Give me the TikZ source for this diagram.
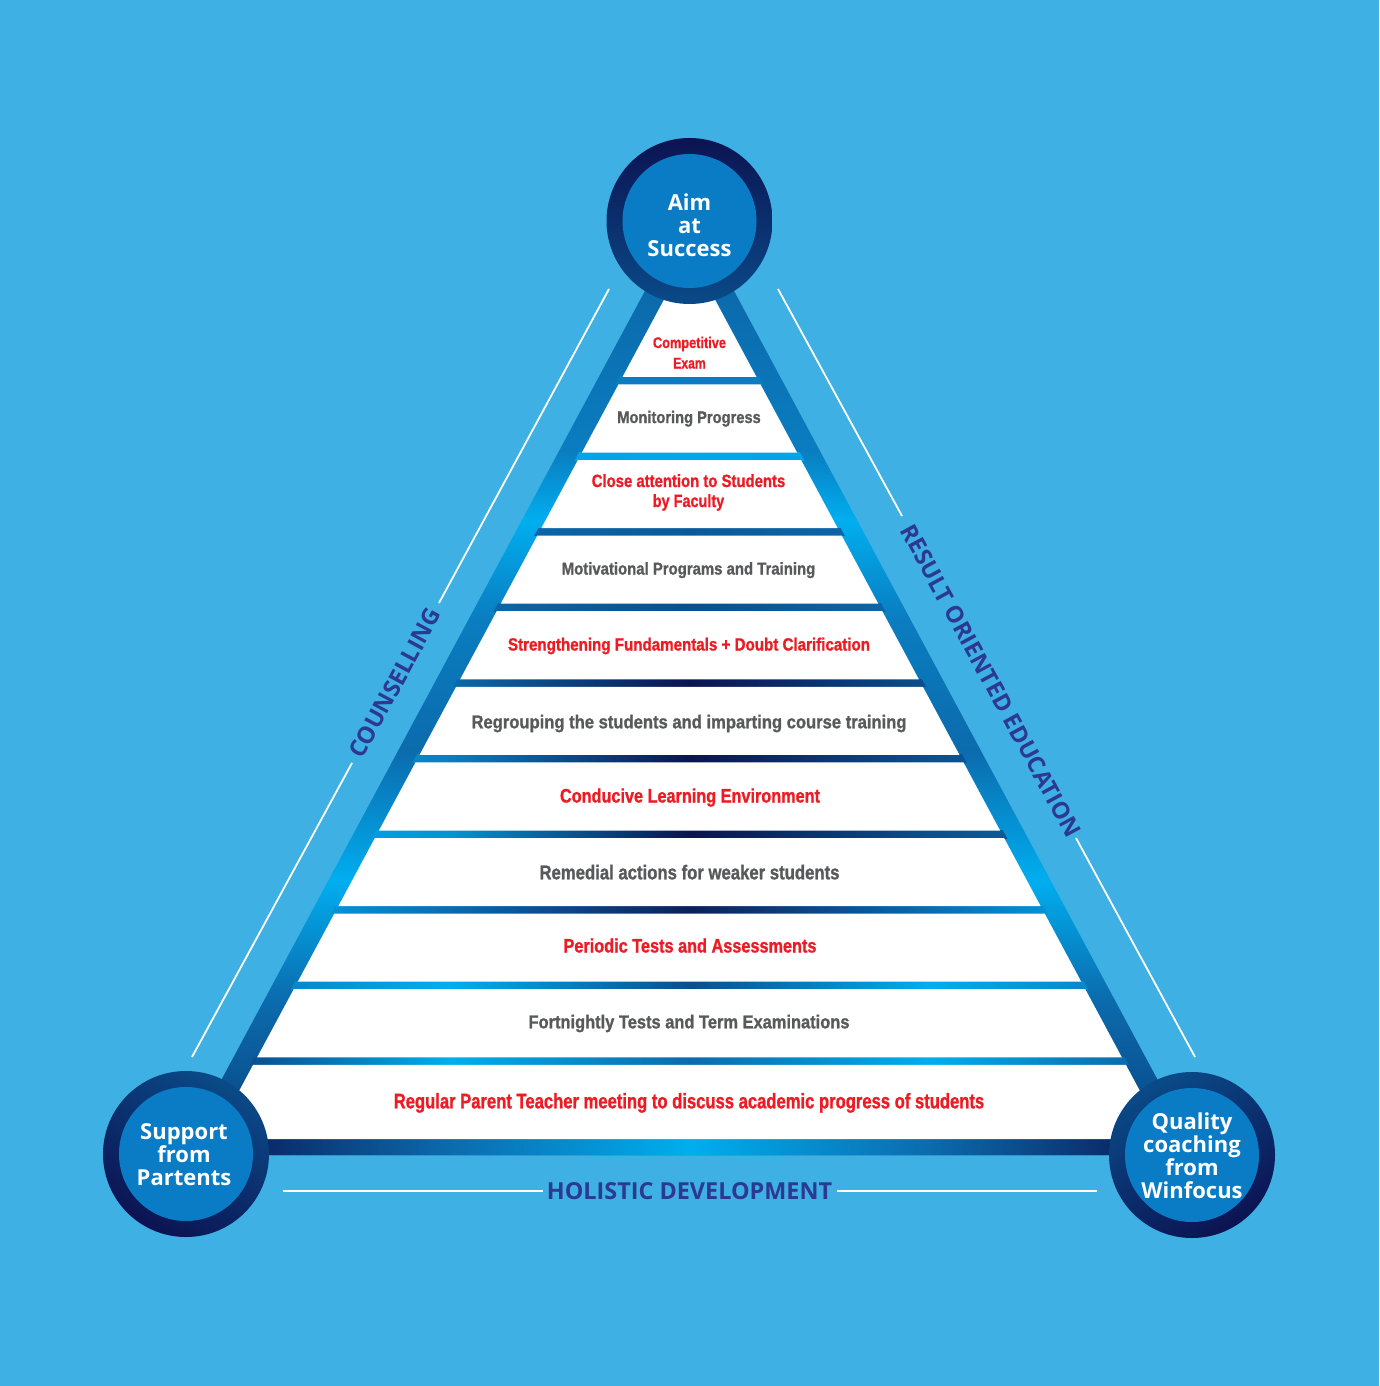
\documentclass[tikz,border=0pt]{standalone}
\usepackage{fontspec}
\usepackage{graphicx}
\setmainfont{Liberation Sans}
\newfontfamily\bandfont{Liberation Sans}[BoldFeatures={FakeBold=1.2}]
\newfontfamily\osans{Open Sans}
\definecolor{bgblue}{HTML}{3EB0E3}
\definecolor{navy}{HTML}{0B1450}
\definecolor{navyB}{HTML}{0B2563}
\definecolor{medB}{HTML}{0B6BAD}
\definecolor{medC}{HTML}{0A7DC0}
\definecolor{cyanB}{HTML}{00AEEF}
\definecolor{darkB}{HTML}{0A4F8E}
\definecolor{circfill}{HTML}{0A7CC6}
\definecolor{ringdark}{HTML}{0C1352}
\definecolor{ringlight}{HTML}{0A4A88}
\definecolor{txtred}{HTML}{ED1C24}
\definecolor{txtgray}{HTML}{58595B}
\definecolor{labblue}{HTML}{2B3990}
\colorlet{cyanmix}{cyanB!75!medC}
\colorlet{cyanmix2}{cyanB!88!medC}
\colorlet{darkmix}{darkB!60!medB}
\colorlet{navymix}{navy!80!darkB}
\colorlet{cyanmed}{cyanB!60!medB}
% frame shading (vertical, 0bp = bottom)
\pgfdeclareverticalshading{frameshade}{100bp}{color(0bp)=(navyB); color(25bp)=(navyB); color(27.9bp)=(darkB); color(33.2bp)=(medB); color(39.5bp)=(cyanB); color(46.4bp)=(medB); color(53.3bp)=(medC); color(58.5bp)=(cyanB); color(62.2bp)=(medC); color(70.1bp)=(medB); color(100bp)=(medB)}
% bar shadings, stops at x = 250, 450, 690, 930, 1130 for a rectangle 170..1210
\newcommand\mkbar[6]{\pgfdeclarehorizontalshading{#1}{100bp}{color(0bp)=(#2); color(28.85bp)=(#2); color(38.46bp)=(#3); color(50bp)=(#4); color(61.54bp)=(#5); color(71.15bp)=(#6); color(100bp)=(#6)}}
\mkbar{barA}{medC}{medC}{medC}{medC}{medC}
\mkbar{barB}{cyanmix}{cyanmix}{cyanmix2}{cyanmix}{cyanmix}
\mkbar{barC}{medB}{medB}{darkmix}{medB}{medB}
\mkbar{barD}{medC}{medB}{darkB}{medB}{medB}
\mkbar{barE}{medC}{medB}{navy}{darkB}{medB}
\mkbar{barF}{cyanB}{medC}{navy}{darkB}{medB}
\mkbar{barG}{cyanB}{cyanmed}{navy}{darkB}{medB}
\mkbar{barH}{cyanB}{medB}{navymix}{medB}{cyanB}
\mkbar{barI}{medC}{cyanB}{darkB}{cyanB}{medC}
\mkbar{barJ}{darkB}{cyanB}{medB}{cyanB}{medB}
\mkbar{barBot}{navyB}{medB}{cyanB}{medB}{navyB}
\newsavebox\fitbox
\newcommand\fitw[3]{\sbox\fitbox{\fontsize{#2}{#2}\selectfont #3}\pgfmathsetmacro\fitfac{#1/\the\wd\fitbox}\scalebox{\fitfac}[1]{\usebox\fitbox}}
\tikzset{
  hubring/.style={circle, minimum size=166pt, inner sep=0pt, top color=ringdark, bottom color=ringlight},
  hubcore/.style={circle, minimum size=134pt, inner sep=0pt, fill=circfill},
  hubtext/.style={text=white, align=center, inner sep=0pt, font=\osans\bfseries\fontsize{22}{23}\selectfont},
  bandt/.style={anchor=base, inner sep=0pt, font=\bandfont\bfseries},
  redt/.style={bandt, text=txtred},
  grayt/.style={bandt, text=txtgray},
  lab/.style={inner sep=0pt, text=labblue, font=\osans\bfseries\fontsize{23.4}{24}\selectfont},
  wline/.style={draw=white, line width=1.8pt}
}
\begin{document}
\begin{tikzpicture}[x=1pt,y=-1pt]
\fill[bgblue] (0,0) rectangle (1379,1386);
\useasboundingbox (0,0) rectangle (1379,1386);
% white guide lines
\draw[wline] (609,289) -- (439,603);
\draw[wline] (352,763) -- (192,1057);
\draw[wline] (778,289) -- (902,516);
\draw[wline] (1076,838) -- (1195,1057);
\draw[wline] (283,1191) -- (543,1191);
\draw[wline] (837,1191) -- (1097,1191);
% frame
\path[shading=frameshade] (689.5,208) -- (181,1155) -- (1198,1155) -- cycle;
% bars
\begin{scope}
\clip (689.5,246.6) -- (201.7,1155) -- (1177.3,1155) -- cycle;
\foreach \k/\sh in {0/barA,1/barB,2/barC,3/barD,4/barE,5/barF,6/barG,7/barH,8/barI,9/barJ}{
  \pgfmathsetmacro\yt{376.9+75.6*\k}
  \path[shading=\sh] (170,\yt) rectangle (1210,\yt+7.5);
}
\end{scope}
\begin{scope}
\clip (689.5,208) -- (181,1155) -- (1198,1155) -- cycle;
\path[shading=barBot] (170,1137) rectangle (1210,1155);
\end{scope}
% white bands
\pgfmathsetmacro\wb{0.537*(376.9-252.2)}
\fill[white] (689.5,252.2) -- (689.5+\wb,376.9) -- (689.5-\wb,376.9) -- cycle;
\foreach \k in {1,...,9}{
  \pgfmathsetmacro\yt{376.9+75.6*(\k-1)+7.5}
  \pgfmathsetmacro\yb{376.9+75.6*\k}
  \pgfmathsetmacro\wt{0.537*(\yt-252.2)}
  \pgfmathsetmacro\wb{0.537*(\yb-252.2)}
  \fill[white] (689.5-\wt,\yt) -- (689.5+\wt,\yt) -- (689.5+\wb,\yb) -- (689.5-\wb,\yb) -- cycle;
}
\pgfmathsetmacro\wt{0.537*(1064.8-252.2)}
\pgfmathsetmacro\wb{0.537*(1139-252.2)}
\fill[white] (689.5-\wt,1064.8) -- (689.5+\wt,1064.8) -- (689.5+\wb,1139) -- (689.5-\wb,1139) -- cycle;
% band texts
\node[redt] (b0a) at (689.5,348) {\fitw{73}{15.4}{Competitive}};
\node[redt] (b0b) at (689.5,368.5) {\fitw{32.5}{15.4}{Exam}};
\node[grayt] (b1) at (689,423) {\fitw{143.5}{16.8}{Monitoring Progress}};
\node[redt] (b2a) at (688.5,487) {\fitw{193.5}{17.7}{Close attention to Students}};
\node[redt] (b2b) at (688.5,507) {\fitw{71.5}{17.7}{by Faculty}};
\node[grayt] (b3) at (688.5,574.5) {\fitw{253.5}{17}{Motivational Programs and Training}};
\node[redt] (b4) at (689,650.5) {\fitw{362}{17.7}{Strengthening Fundamentals + Doubt Clarification}};
\node[grayt] (b5) at (689,728.3) {\fitw{435}{18.6}{Regrouping the students and imparting course training}};
\node[redt] (b6) at (690,802.5) {\fitw{260}{19.5}{Conducive Learning Environment}};
\node[grayt] (b7) at (689.5,879.3) {\fitw{300}{20}{Remedial actions for weaker students}};
\node[redt] (b8) at (690,952.5) {\fitw{253}{19.5}{Periodic Tests and Assessments}};
\node[grayt] (b9) at (689,1028.3) {\fitw{321}{18.6}{Fortnightly Tests and Term Examinations}};
\node[redt] (b10) at (689,1108.3) {\fitw{590.5}{21}{Regular Parent Teacher meeting to discuss academic progress of students}};
% hub circles
\node[hubring, shading angle=0] (topring) at (689.5,221) {};
\node[hubcore] (topcore) at (689.5,221) {};
\node[hubtext] (toptext) at (689.5,225) {Aim\\at\\Success};
\node[hubring, shading angle=150] (leftring) at (186,1154) {};
\node[hubcore] (leftcore) at (186,1154) {};
\node[hubtext] (lefttext) at (184,1155) {Support\\from\\Partents};
\node[hubring, shading angle=-150] (rightring) at (1192,1155) {};
\node[hubcore] (rightcore) at (1192,1155) {};
\node[hubtext] (righttext) at (1192,1156) {Quality\\coaching\\from\\Winfocus};
% side labels
\node[lab, rotate=61.5] (couns) at (395,683) {COUNSELLING};
\node[lab, rotate=-61.5] (result) at (991,681) {RESULT ORIENTED EDUCATION};
\node[lab] (holistic) at (689.5,1191.5) {HOLISTIC DEVELOPMENT};
\end{tikzpicture}
\end{document}
